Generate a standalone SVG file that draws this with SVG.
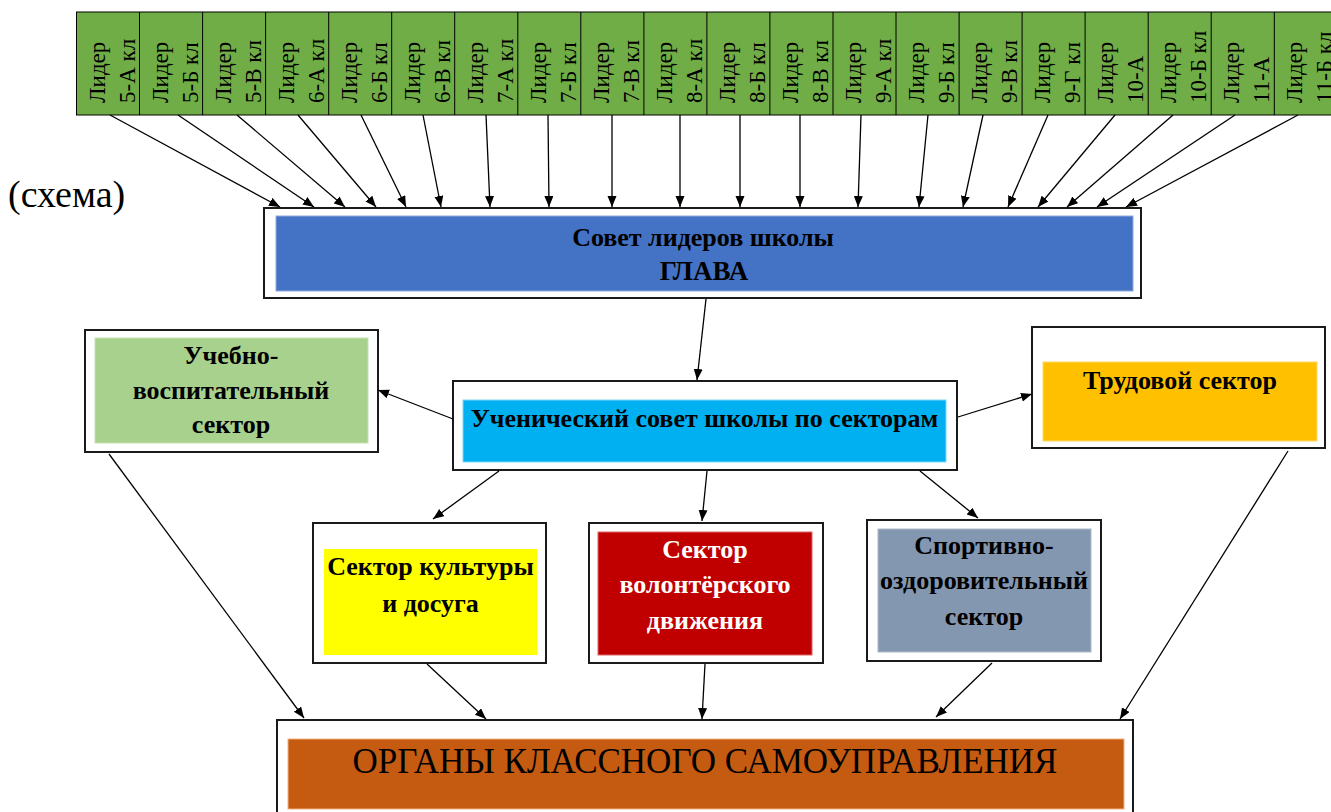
<svg xmlns="http://www.w3.org/2000/svg" width="1331" height="812" viewBox="0 0 1331 812">
<style>
.cell{font-family:"Liberation Serif","Tinos","Times New Roman","DejaVu Serif",serif;font-size:23px;fill:#000}
.b{font-family:"Liberation Serif","Tinos","Times New Roman","DejaVu Serif",serif;font-size:26px;font-weight:bold;text-anchor:middle;fill:#000}
.r{font-family:"Liberation Serif","Tinos","Times New Roman","DejaVu Serif",serif;fill:#000}
.w{fill:#fff}
.outer{fill:#fff;stroke:#1a1a1a;stroke-width:2}
.con line{stroke:#000;stroke-width:1.3;marker-end:url(#ah)}
.div{stroke:#000;stroke-width:1}
</style>
<defs>
<marker id="ah" markerUnits="userSpaceOnUse" markerWidth="12" markerHeight="10" refX="11" refY="4.5" orient="auto">
<path d="M0,0 L11,4.5 L0,9 z" fill="#000"/>
</marker>
</defs>
<rect width="1331" height="812" fill="#fff"/>

<g id="leaders">
<rect x="76.5" y="12" width="1262" height="103" fill="#70AD47" stroke="#000" stroke-width="1"/>
<line class="div" x1="139.5" y1="12" x2="139.5" y2="115"/>
<line class="div" x1="202.6" y1="12" x2="202.6" y2="115"/>
<line class="div" x1="265.6" y1="12" x2="265.6" y2="115"/>
<line class="div" x1="328.7" y1="12" x2="328.7" y2="115"/>
<line class="div" x1="391.7" y1="12" x2="391.7" y2="115"/>
<line class="div" x1="454.7" y1="12" x2="454.7" y2="115"/>
<line class="div" x1="517.8" y1="12" x2="517.8" y2="115"/>
<line class="div" x1="580.8" y1="12" x2="580.8" y2="115"/>
<line class="div" x1="643.9" y1="12" x2="643.9" y2="115"/>
<line class="div" x1="706.9" y1="12" x2="706.9" y2="115"/>
<line class="div" x1="769.9" y1="12" x2="769.9" y2="115"/>
<line class="div" x1="833" y1="12" x2="833" y2="115"/>
<line class="div" x1="896" y1="12" x2="896" y2="115"/>
<line class="div" x1="959.1" y1="12" x2="959.1" y2="115"/>
<line class="div" x1="1022.1" y1="12" x2="1022.1" y2="115"/>
<line class="div" x1="1085.1" y1="12" x2="1085.1" y2="115"/>
<line class="div" x1="1148.2" y1="12" x2="1148.2" y2="115"/>
<line class="div" x1="1211.2" y1="12" x2="1211.2" y2="115"/>
<line class="div" x1="1274.3" y1="12" x2="1274.3" y2="115"/>
</g>
<g id="cell-5a"><text class="cell" transform="translate(76.5,103) rotate(-90)"><tspan x="0" y="28">Лидер</tspan><tspan x="0" y="58">5-А кл</tspan></text></g>
<g id="cell-5b"><text class="cell" transform="translate(139.5,103) rotate(-90)"><tspan x="0" y="28">Лидер</tspan><tspan x="0" y="58">5-Б кл</tspan></text></g>
<g id="cell-5v"><text class="cell" transform="translate(202.6,103) rotate(-90)"><tspan x="0" y="28">Лидер</tspan><tspan x="0" y="58">5-В кл</tspan></text></g>
<g id="cell-6a"><text class="cell" transform="translate(265.6,103) rotate(-90)"><tspan x="0" y="28">Лидер</tspan><tspan x="0" y="58">6-А кл</tspan></text></g>
<g id="cell-6b"><text class="cell" transform="translate(328.7,103) rotate(-90)"><tspan x="0" y="28">Лидер</tspan><tspan x="0" y="58">6-Б кл</tspan></text></g>
<g id="cell-6v"><text class="cell" transform="translate(391.7,103) rotate(-90)"><tspan x="0" y="28">Лидер</tspan><tspan x="0" y="58">6-В кл</tspan></text></g>
<g id="cell-7a"><text class="cell" transform="translate(454.7,103) rotate(-90)"><tspan x="0" y="28">Лидер</tspan><tspan x="0" y="58">7-А кл</tspan></text></g>
<g id="cell-7b"><text class="cell" transform="translate(517.8,103) rotate(-90)"><tspan x="0" y="28">Лидер</tspan><tspan x="0" y="58">7-Б кл</tspan></text></g>
<g id="cell-7v"><text class="cell" transform="translate(580.8,103) rotate(-90)"><tspan x="0" y="28">Лидер</tspan><tspan x="0" y="58">7-В кл</tspan></text></g>
<g id="cell-8a"><text class="cell" transform="translate(643.9,103) rotate(-90)"><tspan x="0" y="28">Лидер</tspan><tspan x="0" y="58">8-А кл</tspan></text></g>
<g id="cell-8b"><text class="cell" transform="translate(706.9,103) rotate(-90)"><tspan x="0" y="28">Лидер</tspan><tspan x="0" y="58">8-Б кл</tspan></text></g>
<g id="cell-8v"><text class="cell" transform="translate(769.9,103) rotate(-90)"><tspan x="0" y="28">Лидер</tspan><tspan x="0" y="58">8-В кл</tspan></text></g>
<g id="cell-9a"><text class="cell" transform="translate(833,103) rotate(-90)"><tspan x="0" y="28">Лидер</tspan><tspan x="0" y="58">9-А кл</tspan></text></g>
<g id="cell-9b"><text class="cell" transform="translate(896,103) rotate(-90)"><tspan x="0" y="28">Лидер</tspan><tspan x="0" y="58">9-Б кл</tspan></text></g>
<g id="cell-9v"><text class="cell" transform="translate(959.1,103) rotate(-90)"><tspan x="0" y="28">Лидер</tspan><tspan x="0" y="58">9-В кл</tspan></text></g>
<g id="cell-9g"><text class="cell" transform="translate(1022.1,103) rotate(-90)"><tspan x="0" y="28">Лидер</tspan><tspan x="0" y="58">9-Г кл</tspan></text></g>
<g id="cell-10a"><text class="cell" transform="translate(1085.1,103) rotate(-90)"><tspan x="0" y="28">Лидер</tspan><tspan x="0" y="58">10-А</tspan></text></g>
<g id="cell-10b"><text class="cell" transform="translate(1148.2,103) rotate(-90)"><tspan x="0" y="28">Лидер</tspan><tspan x="0" y="58">10-Б кл</tspan></text></g>
<g id="cell-11a"><text class="cell" transform="translate(1211.2,103) rotate(-90)"><tspan x="0" y="28">Лидер</tspan><tspan x="0" y="58">11-А</tspan></text></g>
<g id="cell-11b"><text class="cell" transform="translate(1274.3,103) rotate(-90)"><tspan x="0" y="28">Лидер</tspan><tspan x="0" y="58">11-Б кл</tspan></text></g>

<text class="r" x="8" y="207" font-size="38">(схема)</text>

<g id="sovet">
<rect class="outer" x="264" y="208" width="877" height="90"/>
<rect x="276" y="216" width="857" height="75" fill="#4472C4" stroke="#8FAADC" stroke-width="1"/>
<text class="b" x="703" y="246">Совет лидеров школы</text>
<text class="b" x="704" y="280" style="font-size:27px">ГЛАВА</text>
</g>

<g id="uchebno">
<rect class="outer" x="85" y="330" width="293" height="122"/>
<rect x="95" y="338" width="273" height="105" fill="#A9D18E" stroke="#C5E0B4" stroke-width="1"/>
<text class="b" x="231" y="364">Учебно-</text>
<text class="b" x="231" y="399">воспитательный</text>
<text class="b" x="231" y="433">сектор</text>
</g>

<g id="uchenich">
<rect class="outer" x="453" y="381" width="504" height="89"/>
<rect x="463" y="400" width="483" height="62" fill="#00B0F0" stroke="#7FD7F7" stroke-width="1"/>
<text class="b" x="704.5" y="427">Ученический совет школы по секторам</text>
</g>

<g id="trud">
<rect class="outer" x="1032" y="327" width="293" height="121"/>
<rect x="1043" y="362" width="274" height="79" fill="#FFC000" stroke="#FFD966" stroke-width="1"/>
<text class="b" x="1180" y="389">Трудовой сектор</text>
</g>

<g id="kultura">
<rect class="outer" x="313" y="523" width="233" height="140"/>
<rect x="324" y="549" width="213" height="106" fill="#FFFF00"/>
<text class="b" x="430.5" y="575">Сектор культуры</text>
<text class="b" x="430.5" y="612">и досуга</text>
</g>

<g id="volonter">
<rect class="outer" x="589" y="523" width="234" height="140"/>
<rect x="598" y="532" width="214" height="123" fill="#C00000" stroke="#E06666" stroke-width="1"/>
<text class="b w" x="705" y="558">Сектор</text>
<text class="b w" x="705" y="593">волонтёрского</text>
<text class="b w" x="705" y="629">движения</text>
</g>

<g id="sport">
<rect class="outer" x="867" y="520" width="234" height="141"/>
<rect x="878" y="529" width="213" height="123" fill="#8497B0" stroke="#ADB9CA" stroke-width="1"/>
<text class="b" x="984" y="554">Спортивно-</text>
<text class="b" x="984" y="589">оздоровительный</text>
<text class="b" x="984" y="625">сектор</text>
</g>

<g id="organy">
<rect class="outer" x="277" y="720" width="856" height="100"/>
<rect x="288" y="739" width="836" height="70" fill="#C55A11" stroke="#F4B183" stroke-width="1"/>
<text class="r" x="705" y="773" font-size="35" text-anchor="middle">ОРГАНЫ КЛАССНОГО САМОУПРАВЛЕНИЯ</text>
</g>

<g id="connectors" class="con">
<line x1="110" y1="115" x2="280" y2="207"/>
<line x1="178" y1="115" x2="314" y2="207"/>
<line x1="237" y1="115" x2="345" y2="207"/>
<line x1="298" y1="115" x2="376" y2="207"/>
<line x1="361" y1="115" x2="406" y2="207"/>
<line x1="423" y1="115" x2="441" y2="207"/>
<line x1="486" y1="115" x2="490" y2="207"/>
<line x1="548" y1="115" x2="549" y2="207"/>
<line x1="612" y1="115" x2="612" y2="207"/>
<line x1="680" y1="115" x2="680" y2="207"/>
<line x1="740" y1="115" x2="740" y2="207"/>
<line x1="800" y1="115" x2="800" y2="207"/>
<line x1="861" y1="115" x2="858" y2="207"/>
<line x1="928" y1="115" x2="919" y2="207"/>
<line x1="983" y1="115" x2="963" y2="207"/>
<line x1="1048" y1="115" x2="1008" y2="207"/>
<line x1="1115" y1="115" x2="1038" y2="207"/>
<line x1="1173" y1="115" x2="1067" y2="207"/>
<line x1="1235" y1="115" x2="1097" y2="207"/>
<line x1="1298" y1="115" x2="1126" y2="207"/>
<line x1="706" y1="299" x2="697" y2="380"/>
<line x1="453" y1="419" x2="378" y2="390"/>
<line x1="958" y1="417" x2="1032" y2="394"/>
<line x1="499" y1="471" x2="433" y2="519"/>
<line x1="707" y1="471" x2="702" y2="521"/>
<line x1="920" y1="471" x2="978" y2="518"/>
<line x1="109" y1="454" x2="304" y2="718"/>
<line x1="427" y1="664" x2="486" y2="719"/>
<line x1="705" y1="664" x2="702" y2="719"/>
<line x1="992" y1="663" x2="936" y2="717"/>
<line x1="1288" y1="451" x2="1120" y2="719"/>
</g>
</svg>
